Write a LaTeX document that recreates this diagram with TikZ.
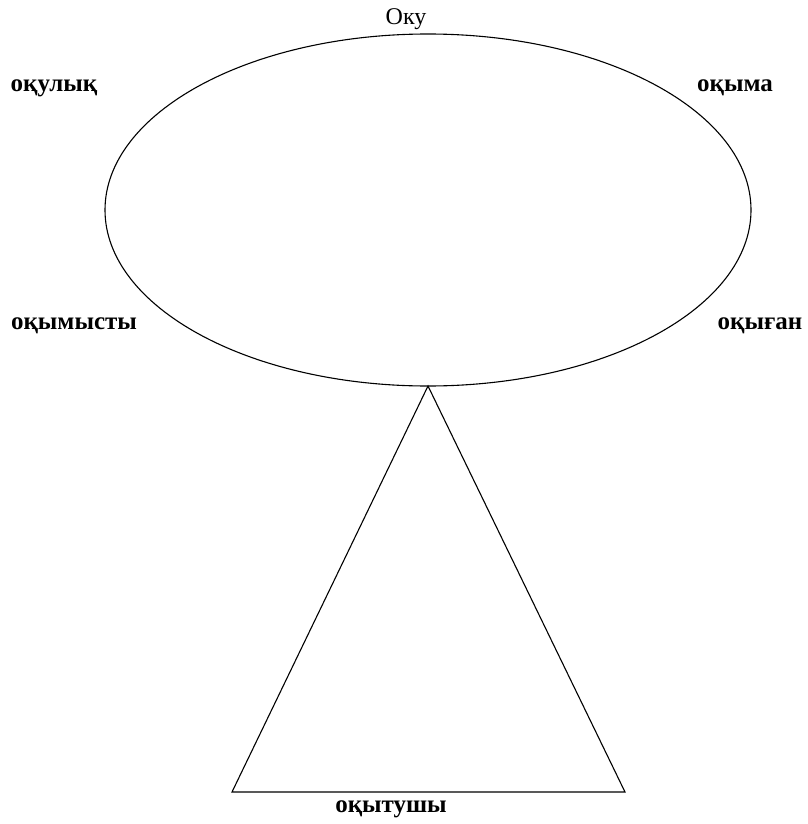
\documentclass[tikz,border=0pt]{standalone}
\usepackage{fontspec}
\setmainfont{Liberation Serif}
\begin{document}
\begin{tikzpicture}[x=1pt,y=-1pt,
  lbl/.style={font=\bfseries\fontsize{25}{28}\selectfont, inner sep=0pt},
  ttl/.style={font=\fontsize{24}{27}\selectfont, inner sep=0pt},
  shp/.style={draw=black, line width=1.1pt}]
\useasboundingbox (0,0) rectangle (807,824);
\draw[shp] (428,210) ellipse [x radius=323, y radius=176];
\coordinate (apex) at (428,386);
\coordinate (bl) at (232,792);
\coordinate (br) at (625,792);
\draw[shp, line join=miter] (apex) -- (bl) -- (br) -- cycle;
\node[ttl] (oku) at (406,19) {Оку};
\node[lbl] (okulyk) at (54,88) {оқулық};
\node[lbl] (okyma) at (735,88) {оқыма};
\node[lbl] (okymysty) at (74,326) {оқымысты};
\node[lbl] (okygan) at (760,326) {оқыған};
\node[lbl] (okytushy) at (391,809) {оқытушы};
\end{tikzpicture}
\end{document}
